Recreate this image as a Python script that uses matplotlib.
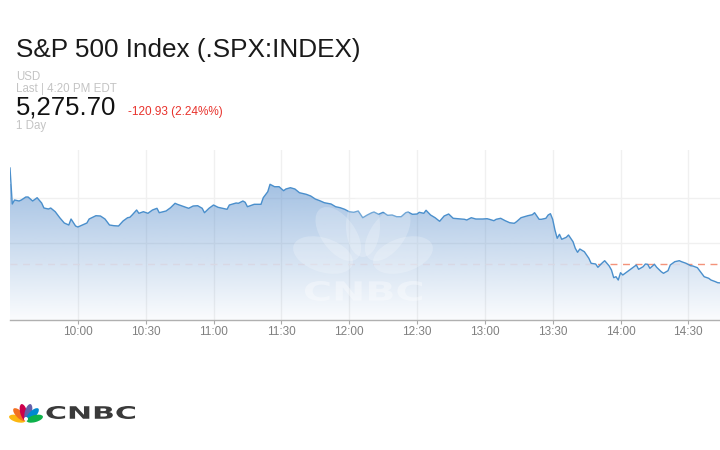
import numpy as np
import matplotlib
matplotlib.use("Agg")
import matplotlib.pyplot as plt
from matplotlib.patches import Ellipse, PathPatch
from matplotlib.path import Path
from matplotlib.textpath import TextPath
from matplotlib.font_manager import FontProperties

plt.rcParams['font.family'] = ['Liberation Sans', 'DejaVu Sans']

# minutes after 9:30 and index level
minutes = [0, 1, 2, 4, 5, 7, 8, 10, 12, 14, 15, 17, 18, 20, 22, 24, 26, 27, 29, 30,
           32, 34, 35, 38, 40, 42, 44, 46, 48, 50, 52, 53, 54, 56, 57, 59, 61, 63, 65, 66,
           69, 71, 73, 74, 77, 79, 81, 83, 85, 86, 88, 90, 92, 94, 96, 97, 100, 101, 103, 104,
           105, 108, 111, 112, 114, 115, 117, 119, 121, 122, 124, 126, 128, 131, 133, 135, 137, 139, 142, 144,
           146, 148, 150, 152, 154, 156, 158, 160, 161, 163, 165, 167, 169, 171, 173, 175, 176, 178, 180, 181,
           183, 184, 186, 188, 190, 192, 194, 196, 198, 201, 202, 204, 206, 209, 211, 212, 214, 215, 217, 219,
           221, 223, 224, 226, 229, 231, 232, 234, 235, 237, 238, 239, 240, 241, 242, 243, 244, 246, 247, 249,
           250, 251, 252, 254, 256, 257, 259, 260, 262, 263, 265, 266, 267, 268, 269, 270, 271, 273, 275, 277,
           278, 280, 281, 282, 283, 285, 286, 288, 289, 291, 292, 294, 296, 297, 299, 301, 302, 304, 305, 307,
           309, 310, 312, 313, 314]
prices = [6011.0, 5780.6, 5806.2, 5799.8, 5806.2, 5825.4, 5825.4, 5799.8, 5820.9, 5787.0,
          5755.0, 5748.6, 5755.0, 5731.3, 5692.9, 5659.0, 5646.2, 5684.6, 5639.8, 5633.4,
          5646.2, 5659.0, 5684.6, 5705.7, 5703.8, 5684.6, 5646.2, 5641.7, 5639.8, 5671.8,
          5692.9, 5695.5, 5710.2, 5742.2, 5721.1, 5731.3, 5721.1, 5742.2, 5753.1, 5724.9,
          5735.8, 5756.9, 5785.1, 5778.7, 5763.3, 5753.1, 5767.8, 5769.7, 5753.1, 5724.9,
          5753.1, 5774.2, 5759.5, 5753.1, 5746.7, 5774.2, 5787.0, 5785.1, 5799.8, 5791.5,
          5763.3, 5778.7, 5778.7, 5820.9, 5859.3, 5906.7, 5891.3, 5891.3, 5865.7, 5876.6,
          5884.9, 5876.6, 5852.9, 5842.7, 5831.8, 5812.6, 5801.7, 5788.9, 5780.6, 5763.3,
          5756.9, 5746.7, 5731.3, 5727.5, 5735.8, 5692.9, 5710.2, 5724.9, 5729.4, 5714.7,
          5727.5, 5708.3, 5710.2, 5699.3, 5699.3, 5724.9, 5729.4, 5714.7, 5716.6, 5727.5,
          5721.1, 5740.3, 5710.2, 5692.9, 5669.9, 5703.8, 5716.6, 5689.1, 5686.5, 5682.7,
          5678.2, 5692.9, 5684.6, 5684.6, 5686.5, 5682.7, 5673.7, 5682.7, 5689.1, 5673.7,
          5660.9, 5657.1, 5667.3, 5692.9, 5705.7, 5712.1, 5724.9, 5682.7, 5682.7, 5689.1,
          5710.2, 5718.5, 5682.7, 5614.2, 5561.1, 5586.7, 5554.7, 5567.5, 5582.2, 5539.3,
          5497.1, 5471.5, 5492.6, 5475.3, 5433.1, 5401.1, 5396.6, 5375.5, 5404.9, 5417.7,
          5383.8, 5358.2, 5308.9, 5315.3, 5294.2, 5340.9, 5326.2, 5347.3, 5369.1, 5390.2,
          5362.7, 5379.3, 5396.6, 5394.7, 5369.1, 5394.7, 5375.5, 5347.3, 5337.1, 5353.7,
          5390.2, 5411.3, 5417.7, 5411.3, 5401.1, 5385.7, 5383.8, 5372.9, 5353.7, 5315.3,
          5305.1, 5294.2, 5283.3, 5276.9, 5275.7]

prev_close = 5396.63
tick_minutes = [30, 60, 90, 120, 150, 180, 210, 240, 270, 300]
tick_labels = ["10:00", "10:30", "11:00", "11:30", "12:00", "12:30", "13:00", "13:30", "14:00", "14:30"]
grid_levels = [5531, 5819]

W, H = 720, 450
fig = plt.figure(figsize=(7.2, 4.5), dpi=100)


def fx(px):
    return px / W


def fy(py):
    return 1 - py / H


def pix_ellipse(cx, cy, w, h, ang, **kw):
    # ellipse given in image pixels (y down), drawn in inches so it keeps its shape
    e = Ellipse((cx / 100, (H - cy) / 100), w / 100, h / 100, angle=ang,
                transform=fig.dpi_scale_trans, **kw)
    fig.add_artist(e)


# header texts
fig.text(fx(16), fy(57), "S&P 500 Index (.SPX:INDEX)", fontsize=18.8, color="#1a1a1a", va="baseline")
fig.text(fx(16), fy(80), "USD", fontsize=8.3, color="#c4c4c4", va="baseline")
fig.text(fx(16), fy(92.5), "Last | 4:20 PM EDT", fontsize=8.3, color="#c4c4c4", va="baseline")
fig.text(fx(16), fy(115), "5,275.70", fontsize=18.5, color="#111111", va="baseline")
fig.text(fx(128), fy(114.5), "-120.93 (2.24%%)", fontsize=8.5, color="#e8322c", va="baseline")
fig.text(fx(16), fy(128.5), "1 Day", fontsize=8.3, color="#c4c4c4", va="baseline")

# chart
ax = fig.add_axes([fx(10), fy(320), fx(710), (320 - 150) / H])
x = np.array(minutes, dtype=float)
y = np.array(prices)
ylo, yhi = 5038.2, 6126.2
ax.set_xlim(0, 314)
ax.set_ylim(ylo, yhi)

fill = ax.fill_between(x, y, ylo, color="none", lw=0)
clip_path = fill.get_paths()[0]

# gradient under the line
n = 256
alpha = np.linspace(0.03, 0.56, n)
top = 5907.0
grad = np.zeros((n, 1, 4))
grad[:, 0, 0] = 93 / 255
grad[:, 0, 1] = 145 / 255
grad[:, 0, 2] = 205 / 255
grad[:, 0, 3] = alpha
img = ax.imshow(grad, extent=[0, 314, ylo, top], origin="lower", aspect="auto", zorder=2,
                interpolation="bilinear")
img.set_clip_path(clip_path, transform=ax.transData)

# previous close: pale inside the fill, salmon above it
pale = ax.axhline(prev_close, color="#d8d8e4", lw=1, ls=(0, (5, 4)), zorder=3)
pale.set_clip_path(clip_path, transform=ax.transData)
above_v = np.vstack([np.column_stack([x, y]), [[314, yhi + 100], [0, yhi + 100]]])
above = Path(above_v, closed=True)
red = ax.axhline(prev_close, color="#f4937a", lw=1, ls=(0, (5, 4)), zorder=3)
red.set_clip_path(above, transform=ax.transData)

ax.plot(x, y, color="#4a8fcc", lw=1.0, zorder=5)

# watermark peacock and letters
wm_c = (363, 268)
for ang in [-72, -36, 0, 36, 72]:
    r = np.deg2rad(ang)
    cx = wm_c[0] + 42 * np.sin(r)
    cy = wm_c[1] - 42 * np.cos(r)
    pix_ellipse(cx, cy, 34, 62, -ang, facecolor="white", edgecolor="none", alpha=0.22, zorder=6)


def stretched_text(s, x0, x1, ytop, ybot, color, alpha=1.0):
    tp = TextPath((0, 0), s, size=20, prop=FontProperties(family="DejaVu Sans", weight="bold"))
    v = tp.vertices.copy()
    vx0, vy0 = v[:, 0].min(), v[:, 1].min()
    vx1, vy1 = v[:, 0].max(), v[:, 1].max()
    px = x0 + (v[:, 0] - vx0) / (vx1 - vx0) * (x1 - x0)
    py = ybot - (v[:, 1] - vy0) / (vy1 - vy0) * (ybot - ytop)
    p = Path(np.column_stack([px / W, 1 - py / H]), tp.codes)
    fig.add_artist(PathPatch(p, transform=fig.transFigure, facecolor=color, edgecolor="none",
                             alpha=alpha, zorder=7))


stretched_text("CNBC", 303, 422, 281, 301, "white", 0.35)

# grid and axis
for g in grid_levels:
    ax.axhline(g, color="#f0f0f0", lw=1, zorder=1)
for t in tick_minutes:
    ax.axvline(t, color="#f0f0f0", lw=1, zorder=1)
ax.set_xticks(tick_minutes)
ax.set_xticklabels(tick_labels)
ax.set_yticks([])
ax.tick_params(axis="x", length=3, color="#aaaaaa", labelsize=8.5, labelcolor="#808080", pad=1)
for side in ["top", "right", "left"]:
    ax.spines[side].set_visible(False)
ax.spines["bottom"].set_color("#b0b0b0")
ax.spines["bottom"].set_linewidth(1)

# CNBC logo
base = (26, 421)
feather_colors = ["#fcb711", "#f37021", "#cc004c", "#6460aa", "#0089d0", "#0db14b"]
for i, c in enumerate(feather_colors):
    ang = -75 + i * 30
    r = np.deg2rad(ang)
    cx = base[0] + 9 * np.sin(r)
    cy = base[1] - 9 * np.cos(r)
    pix_ellipse(cx, cy, 7, 17, -ang, facecolor=c, edgecolor="none")
pix_ellipse(26, 419, 4, 4, 0, facecolor="white", edgecolor="none")
stretched_text("CNBC", 45, 135, 406, 419, "#3a3a3a")

fig.savefig("out.png", dpi=100)
